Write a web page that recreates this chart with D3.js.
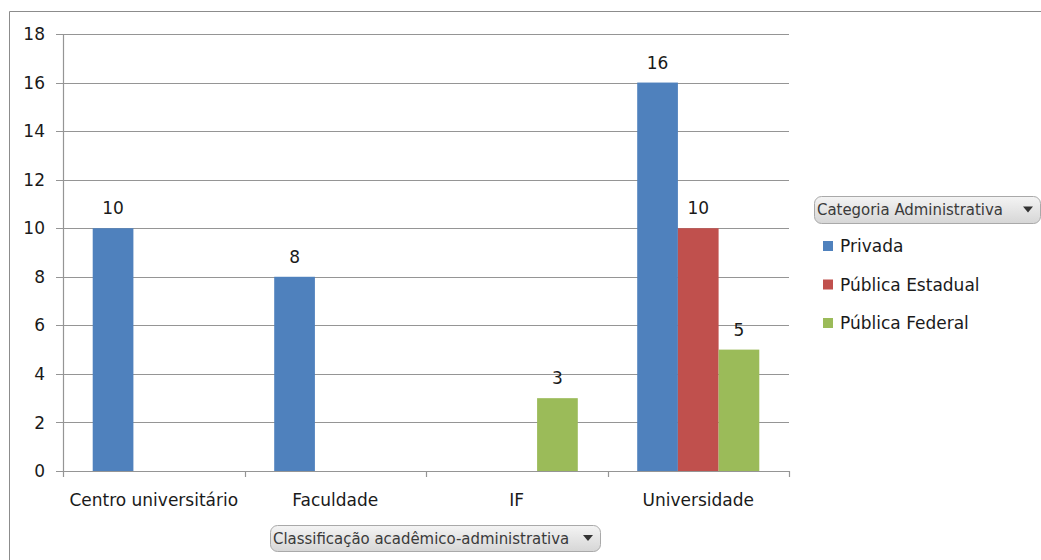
<!DOCTYPE html>
<html><head><meta charset="utf-8">
<script src="https://cdn.jsdelivr.net/npm/d3@7"></script>
<style>
html,body{margin:0;padding:0;background:#fff;}
svg{display:block;}
text{font-family:"DejaVu Sans",sans-serif;}
text.btn{font-family:"DejaVu Sans Condensed","DejaVu Sans",sans-serif;}
</style></head>
<body>
<svg id="c" width="1041" height="560"></svg>
<script>
const categories = ["Centro universitário","Faculdade","IF","Universidade"];
const seriesNames = ["Privada","Pública Estadual","Pública Federal"];
const privada  = [10, 8, null, 16];
const estadual = [null, null, null, 10];
const federal  = [null, null, 3, 5];
const yTicks = [0,2,4,6,8,10,12,14,16,18];
const colors = ["#4F81BD","#C0504D","#9BBB59"];
const legendTitle = "Categoria Administrativa";
const axisButton = "Classificação acadêmico-administrativa";

(function(){
const seriesValues = [privada, estadual, federal];
const svg = d3.select("#c");

// outer border
svg.append("path").attr("d","M9.5,560 L9.5,11.5 L1041,11.5").attr("fill","none").attr("stroke","#8c8c8c").attr("stroke-width",1);

const pl = 63, pr = 789, pt = 34, pb = 471;
const x = d3.scaleBand().domain(categories).range([pl,pr]);
const xs = d3.scaleBand().domain(seriesNames).range([0,x.bandwidth()]).paddingInner(0).paddingOuter(0.73);
const y = d3.scaleLinear().domain([0,18]).range([pb,pt]);

// gridlines
svg.append("g").selectAll("line").data(yTicks).join("line")
  .attr("x1",pl-7).attr("x2",pr)
  .attr("y1",d=>Math.round(y(d))+0.5).attr("y2",d=>Math.round(y(d))+0.5)
  .attr("stroke","#959595").attr("stroke-width",1.2);

// y axis line
svg.append("line").attr("x1",pl+0.5).attr("x2",pl+0.5).attr("y1",pt).attr("y2",pb+6)
  .attr("stroke","#959595").attr("stroke-width",1.2);
// x category ticks
const bounds = categories.map(c=>x(c)).concat([pr]);
svg.append("g").selectAll("line").data(bounds.slice(1)).join("line")
  .attr("x1",d=>Math.round(d)+0.5).attr("x2",d=>Math.round(d)+0.5)
  .attr("y1",pb).attr("y2",pb+6)
  .attr("stroke","#959595").attr("stroke-width",1.2);

// y tick labels
svg.append("g").selectAll("text").data(yTicks).join("text")
  .attr("x",45).attr("y",d=>y(d)).attr("dy","0.36em")
  .attr("text-anchor","end").attr("font-size",17).attr("fill","#1a1a1a")
  .text(d=>d);

// bars
const flat = [];
categories.forEach((c,i)=>seriesNames.forEach((s,j)=>{
  const v = seriesValues[j][i];
  if (v!=null) flat.push({c,s,v,j});
}));
svg.append("g").selectAll("rect").data(flat).join("rect")
  .attr("x",d=>x(d.c)+xs(d.s)).attr("width",xs.bandwidth())
  .attr("y",d=>y(d.v)).attr("height",d=>y(0)-y(d.v))
  .attr("fill",d=>colors[d.j]);

// value labels
svg.append("g").selectAll("text").data(flat).join("text")
  .attr("x",d=>x(d.c)+xs(d.s)+xs.bandwidth()/2).attr("y",d=>y(d.v)-14)
  .attr("text-anchor","middle").attr("font-size",17).attr("fill","#1a1a1a")
  .text(d=>d.v);

// category labels
svg.append("g").selectAll("text").data(categories).join("text")
  .attr("x",d=>x(d)+x.bandwidth()/2).attr("y",506)
  .attr("text-anchor","middle").attr("font-size",17).attr("fill","#1a1a1a")
  .text(d=>d);

// gradient for buttons
const defs = svg.append("defs");
const g = defs.append("linearGradient").attr("id","btn").attr("x1",0).attr("x2",0).attr("y1",0).attr("y2",1);
g.append("stop").attr("offset","0%").attr("stop-color","#f4f4f4");
g.append("stop").attr("offset","100%").attr("stop-color","#d6d6d6");

function button(x0,y0,w,h,label){
  const b = svg.append("g");
  b.append("rect").attr("x",x0+0.5).attr("y",y0+0.5).attr("width",w).attr("height",h)
    .attr("rx",7).attr("fill","url(#btn)").attr("stroke","#a9a9a9");
  b.append("text").attr("class","btn").attr("x",x0+3).attr("y",y0+h/2).attr("dy","0.36em")
    .attr("font-size",16.6).attr("fill","#3a3a3a").text(label);
  b.append("path").attr("d",`M${x0+w-17},${y0+h/2-3} l10,0 l-5,6 z`).attr("fill","#333");
}
button(270,525,330,26,axisButton);
button(814,196,226,27,legendTitle);

// legend items
const leg = svg.append("g").selectAll("g").data(seriesNames).join("g")
  .attr("transform",(d,i)=>`translate(823,${246+i*38.5})`);
leg.append("rect").attr("x",0).attr("y",-5).attr("width",10).attr("height",10).attr("fill",(d,i)=>colors[i]);
leg.append("text").attr("x",17).attr("y",0).attr("dy","0.36em").attr("font-size",17).attr("fill","#1a1a1a").text(d=>d);
})();
</script>
</body></html>
